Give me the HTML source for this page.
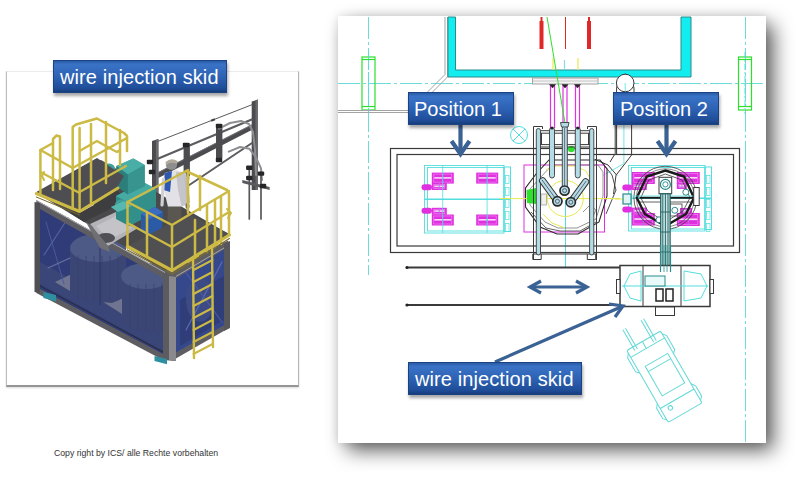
<!DOCTYPE html>
<html><head><meta charset="utf-8">
<style>
html,body{margin:0;padding:0;width:800px;height:477px;overflow:hidden;background:#fff;font-family:"Liberation Sans",sans-serif;}
.abs{position:absolute;}
#lf{left:6px;top:71px;width:291px;height:313px;border-left:1.5px solid #bcbcbc;border-right:1.5px solid #b4b4b4;border-top:1px solid #ececec;border-bottom:2px solid #959595;background:#fff;box-shadow:0 1px 2px rgba(0,0,0,0.15);}
#rf{left:338px;top:16px;width:428px;height:427px;background:#fff;box-shadow:0 0 9px rgba(0,0,0,0.10);}
#rsh{left:347px;top:25px;width:426px;height:425px;background:rgba(0,0,0,0.66);filter:blur(10px);}
#bsh{display:none;}
.lbl{position:absolute;height:32.5px;color:#fff;font-size:20px;line-height:32px;box-sizing:border-box;
background:linear-gradient(180deg,#2a5ca8 0%,#3a73c6 12%,#2d62b4 50%,#1f4d98 88%,#173d7c 100%);
border:1px solid #1b4282;box-shadow:1px 3px 3px rgba(0,0,0,0.35);white-space:nowrap;}
#copy{left:54px;top:447.5px;font-size:8.7px;color:#333;white-space:nowrap;}
svg{position:absolute;left:0;top:0;}
</style></head><body>
<div id="lf" class="abs"></div>
<div id="rsh" class="abs"></div>
<div id="bsh" class="abs"></div>
<div id="rf" class="abs"></div>

<svg id="cad" width="800" height="477" viewBox="0 0 800 477">
<line x1="368.5" y1="17" x2="368.5" y2="275" stroke="#6edcd8" stroke-width="1" stroke-dasharray="22 3 3 3"/>
<line x1="745.5" y1="17" x2="745.5" y2="443" stroke="#6edcd8" stroke-width="1" stroke-dasharray="22 3 3 3"/>
<line x1="338" y1="83.5" x2="766" y2="83.5" stroke="#6edcd8" stroke-width="1" stroke-dasharray="22 3 3 3"/>
<line x1="565.5" y1="200" x2="565.5" y2="268" stroke="#52dede" stroke-width="1" />
<rect x="362" y="57" width="13" height="53" stroke="#2ee02e" stroke-width="1.2" fill="none" />
<line x1="362" y1="59.5" x2="375" y2="59.5" stroke="#2ee02e" stroke-width="1.2" />
<line x1="362" y1="106.5" x2="375" y2="106.5" stroke="#2ee02e" stroke-width="1.2" />
<line x1="368.5" y1="52" x2="368.5" y2="114" stroke="#52dede" stroke-width="1" stroke-dasharray="6 2 2 2"/>
<rect x="738.5" y="57" width="13" height="53" stroke="#2ee02e" stroke-width="1.2" fill="none" />
<line x1="738.5" y1="59.5" x2="751.5" y2="59.5" stroke="#2ee02e" stroke-width="1.2" />
<line x1="738.5" y1="106.5" x2="751.5" y2="106.5" stroke="#2ee02e" stroke-width="1.2" />
<line x1="745.0" y1="52" x2="745.0" y2="114" stroke="#52dede" stroke-width="1" stroke-dasharray="6 2 2 2"/>
<polyline points="445,17 445,74.5 409,110.5 338,110.5" stroke="#a4a4a4" stroke-width="1" fill="none" />
<polyline points="447.5,17 447.5,77 412,112.5 338,112.5" stroke="#a4a4a4" stroke-width="1" fill="none" />
<path d="M448,17 V77 H691 V17 H681 V70 H455.5 V17 Z" fill="#12eef0" stroke="#2a8a8a" stroke-width="1"/>
<rect x="539.5" y="21" width="4" height="28" stroke="#e02828" stroke-width="0" fill="#e02828" />
<rect x="540.5" y="17" width="2" height="5" stroke="#e02828" stroke-width="0" fill="#e02828" />
<rect x="587" y="21" width="4" height="28" stroke="#e02828" stroke-width="0" fill="#e02828" />
<rect x="588" y="17" width="2" height="5" stroke="#e02828" stroke-width="0" fill="#e02828" />
<line x1="565.5" y1="17" x2="565.5" y2="49" stroke="#e02828" stroke-width="1" />
<line x1="553" y1="58" x2="553" y2="70" stroke="#e8e850" stroke-width="1.2" />
<line x1="578" y1="58" x2="578" y2="70" stroke="#e8e850" stroke-width="1.2" />
<line x1="564.5" y1="60" x2="564.5" y2="70" stroke="#8fd8e8" stroke-width="1.2" />
<rect x="532.5" y="78" width="65.5" height="6" stroke="#a4a4a4" stroke-width="1" fill="#f4f4f4" />
<line x1="533" y1="81" x2="598" y2="81" stroke="#bbbbbb" stroke-width="0.8" />
<line x1="550.5" y1="85" x2="550.5" y2="128" stroke="#e030e0" stroke-width="1.2" />
<line x1="554.5" y1="85" x2="554.5" y2="128" stroke="#e030e0" stroke-width="1.2" />
<line x1="563" y1="85" x2="563" y2="128" stroke="#e030e0" stroke-width="1.2" />
<line x1="567" y1="85" x2="567" y2="128" stroke="#e030e0" stroke-width="1.2" />
<line x1="575.5" y1="85" x2="575.5" y2="128" stroke="#e030e0" stroke-width="1.2" />
<line x1="579.5" y1="85" x2="579.5" y2="128" stroke="#e030e0" stroke-width="1.2" />
<polygon points="549.5,84.5 555.5,84.5 552.5,88" stroke="#222" stroke-width="0.5" fill="#222" />
<polygon points="562,84.5 568,84.5 565,88" stroke="#222" stroke-width="0.5" fill="#222" />
<polygon points="574.5,84.5 580.5,84.5 577.5,88" stroke="#222" stroke-width="0.5" fill="#222" />
<line x1="547" y1="17" x2="565" y2="123" stroke="#2ee02e" stroke-width="1" />
<polyline points="616.6,155 616.6,88 619,78 625.2,74 631.5,78 634,88 634,100" stroke="#3a3a3a" stroke-width="1" fill="none" />
<polyline points="631.6,92 631.6,155 616,175.3 613.5,194" stroke="#3a3a3a" stroke-width="1" fill="none" />
<polyline points="615.2,92 615.2,153.5 610,162" stroke="#3a3a3a" stroke-width="1" fill="none" />
<polyline points="595,159.4 608,165 616.8,175.3" stroke="#3a3a3a" stroke-width="1" fill="none" />
<polyline points="623.9,83 623.9,163.6 603.4,175.3" stroke="#52dede" stroke-width="0.8" fill="none" />
<circle cx="625.2" cy="83" r="8.8" stroke="#3a3a3a" stroke-width="1" fill="#fff" />
<line x1="625.2" y1="83" x2="625.2" y2="91" stroke="#52dede" stroke-width="0.8" />
<circle cx="519" cy="135" r="8.5" stroke="#52dede" stroke-width="1" fill="none" />
<line x1="513" y1="129" x2="525" y2="141" stroke="#52dede" stroke-width="1" />
<line x1="525" y1="129" x2="513" y2="141" stroke="#52dede" stroke-width="1" />
<rect x="390.5" y="148.5" width="349" height="104" stroke="#3a3a3a" stroke-width="1.2" fill="none" />
<rect x="397" y="154.5" width="336.5" height="91.5" stroke="#3a3a3a" stroke-width="1.2" fill="none" />
<line x1="406" y1="267.5" x2="620" y2="267.5" stroke="#3a3a3a" stroke-width="1.8" />
<line x1="406" y1="305" x2="620" y2="305" stroke="#3a3a3a" stroke-width="1.8" />
<circle cx="407" cy="267.5" r="1.6" stroke="#222" stroke-width="0" fill="#222" />
<circle cx="407" cy="305" r="1.6" stroke="#222" stroke-width="0" fill="#222" />
<rect x="424.5" y="165.5" width="79.5" height="67.5" stroke="#52dede" stroke-width="0.9" fill="none" />
<rect x="427.5" y="167.5" width="76.5" height="63.5" stroke="#52dede" stroke-width="0.9" fill="none" />
<rect x="504.0" y="167.0" width="6.5" height="64.5" stroke="#52dede" stroke-width="1" fill="none" />
<rect x="505.5" y="175.5" width="3.5" height="8" stroke="#52dede" stroke-width="0.7" fill="none" />
<rect x="505.5" y="187.5" width="3.5" height="8" stroke="#52dede" stroke-width="0.7" fill="none" />
<rect x="505.5" y="199.5" width="3.5" height="8" stroke="#52dede" stroke-width="0.7" fill="none" />
<rect x="505.5" y="211.5" width="3.5" height="8" stroke="#52dede" stroke-width="0.7" fill="none" />
<rect x="505.5" y="223.5" width="3.5" height="8" stroke="#52dede" stroke-width="0.7" fill="none" />
<line x1="424.5" y1="199.25" x2="511.0" y2="199.25" stroke="#52dede" stroke-width="1.3" />
<rect x="431.8" y="172.6" width="22" height="11" stroke="#e030e0" stroke-width="0" fill="#e030e0" />
<rect x="434.3" y="177.1" width="17" height="1.6" stroke="#fff" stroke-width="0" fill="#f8d8f8" />
<rect x="433.8" y="174.1" width="18" height="8" stroke="#f090f0" stroke-width="0.6" fill="none" />
<line x1="442.8" y1="172.6" x2="442.8" y2="183.6" stroke="#a080e0" stroke-width="0.8" />
<rect x="431.8" y="183" width="15" height="7" stroke="#e030e0" stroke-width="0" fill="#e030e0" />
<rect x="434.3" y="185.5" width="10" height="1.6" stroke="#fff" stroke-width="0" fill="#f8d8f8" />
<rect x="433.8" y="184.5" width="11" height="4" stroke="#f090f0" stroke-width="0.6" fill="none" />
<line x1="439.3" y1="183" x2="439.3" y2="190" stroke="#a080e0" stroke-width="0.8" />
<rect x="421.5" y="184.3" width="10.5" height="6" stroke="#e030e0" stroke-width="0" fill="#e030e0" rx="3"/>
<rect x="476.2" y="172.6" width="22" height="11" stroke="#e030e0" stroke-width="0" fill="#e030e0" />
<rect x="478.7" y="177.1" width="17" height="1.6" stroke="#fff" stroke-width="0" fill="#f8d8f8" />
<rect x="478.2" y="174.1" width="18" height="8" stroke="#f090f0" stroke-width="0.6" fill="none" />
<line x1="487.2" y1="172.6" x2="487.2" y2="183.6" stroke="#a080e0" stroke-width="0.8" />
<rect x="431.8" y="214.5" width="22" height="11" stroke="#e030e0" stroke-width="0" fill="#e030e0" />
<rect x="434.3" y="219.0" width="17" height="1.6" stroke="#fff" stroke-width="0" fill="#f8d8f8" />
<rect x="433.8" y="216.0" width="18" height="8" stroke="#f090f0" stroke-width="0.6" fill="none" />
<line x1="442.8" y1="214.5" x2="442.8" y2="225.5" stroke="#a080e0" stroke-width="0.8" />
<rect x="431.8" y="207.8" width="15" height="7" stroke="#e030e0" stroke-width="0" fill="#e030e0" />
<rect x="434.3" y="210.3" width="10" height="1.6" stroke="#fff" stroke-width="0" fill="#f8d8f8" />
<rect x="433.8" y="209.3" width="11" height="4" stroke="#f090f0" stroke-width="0.6" fill="none" />
<line x1="439.3" y1="207.8" x2="439.3" y2="214.8" stroke="#a080e0" stroke-width="0.8" />
<rect x="421.5" y="207.8" width="10.5" height="6" stroke="#e030e0" stroke-width="0" fill="#e030e0" rx="3"/>
<rect x="476.2" y="214.5" width="22" height="11" stroke="#e030e0" stroke-width="0" fill="#e030e0" />
<rect x="478.7" y="219.0" width="17" height="1.6" stroke="#fff" stroke-width="0" fill="#f8d8f8" />
<rect x="478.2" y="216.0" width="18" height="8" stroke="#f090f0" stroke-width="0.6" fill="none" />
<line x1="487.2" y1="214.5" x2="487.2" y2="225.5" stroke="#a080e0" stroke-width="0.8" />
<line x1="442.7" y1="165" x2="442.7" y2="233" stroke="#52dede" stroke-width="0.8" />
<line x1="487.1" y1="165" x2="487.1" y2="233" stroke="#52dede" stroke-width="0.8" />
<rect x="628.5" y="165.5" width="76.5" height="65.5" stroke="#52dede" stroke-width="0.9" fill="none" />
<rect x="631.5" y="167.5" width="73.5" height="61.5" stroke="#52dede" stroke-width="0.9" fill="none" />
<rect x="705.0" y="167.0" width="6.5" height="62.5" stroke="#52dede" stroke-width="1" fill="none" />
<rect x="706.5" y="175.5" width="3.5" height="8" stroke="#52dede" stroke-width="0.7" fill="none" />
<rect x="706.5" y="187.5" width="3.5" height="8" stroke="#52dede" stroke-width="0.7" fill="none" />
<rect x="706.5" y="199.5" width="3.5" height="8" stroke="#52dede" stroke-width="0.7" fill="none" />
<rect x="706.5" y="211.5" width="3.5" height="8" stroke="#52dede" stroke-width="0.7" fill="none" />
<rect x="706.5" y="223.5" width="3.5" height="8" stroke="#52dede" stroke-width="0.7" fill="none" />
<line x1="628.5" y1="198.25" x2="712.0" y2="198.25" stroke="#52dede" stroke-width="1.3" />
<rect x="631.8" y="172" width="23" height="12" stroke="#e030e0" stroke-width="0" fill="#e030e0" />
<rect x="634.3" y="177.0" width="18" height="1.6" stroke="#fff" stroke-width="0" fill="#f8d8f8" />
<rect x="633.8" y="173.5" width="19" height="9" stroke="#f090f0" stroke-width="0.6" fill="none" />
<line x1="643.3" y1="172" x2="643.3" y2="184" stroke="#a080e0" stroke-width="0.8" />
<rect x="631.8" y="183" width="15" height="7" stroke="#e030e0" stroke-width="0" fill="#e030e0" />
<rect x="634.3" y="185.5" width="10" height="1.6" stroke="#fff" stroke-width="0" fill="#f8d8f8" />
<rect x="633.8" y="184.5" width="11" height="4" stroke="#f090f0" stroke-width="0.6" fill="none" />
<line x1="639.3" y1="183" x2="639.3" y2="190" stroke="#a080e0" stroke-width="0.8" />
<rect x="622.3" y="184.6" width="10" height="6" stroke="#e030e0" stroke-width="0" fill="#e030e0" rx="3"/>
<rect x="676.8" y="172" width="23" height="12" stroke="#e030e0" stroke-width="0" fill="#e030e0" />
<rect x="679.3" y="177.0" width="18" height="1.6" stroke="#fff" stroke-width="0" fill="#f8d8f8" />
<rect x="678.8" y="173.5" width="19" height="9" stroke="#f090f0" stroke-width="0.6" fill="none" />
<line x1="688.3" y1="172" x2="688.3" y2="184" stroke="#a080e0" stroke-width="0.8" />
<rect x="676.8" y="183" width="10" height="6" stroke="#e030e0" stroke-width="0" fill="#e030e0" />
<rect x="679.3" y="185.0" width="5" height="1.6" stroke="#fff" stroke-width="0" fill="#f8d8f8" />
<rect x="678.8" y="184.5" width="6" height="3" stroke="#f090f0" stroke-width="0.6" fill="none" />
<line x1="681.8" y1="183" x2="681.8" y2="189" stroke="#a080e0" stroke-width="0.8" />
<rect x="631.8" y="213" width="23" height="12.5" stroke="#e030e0" stroke-width="0" fill="#e030e0" />
<rect x="634.3" y="218.25" width="18" height="1.6" stroke="#fff" stroke-width="0" fill="#f8d8f8" />
<rect x="633.8" y="214.5" width="19" height="9.5" stroke="#f090f0" stroke-width="0.6" fill="none" />
<line x1="643.3" y1="213" x2="643.3" y2="225.5" stroke="#a080e0" stroke-width="0.8" />
<rect x="631.8" y="207.6" width="15" height="7" stroke="#e030e0" stroke-width="0" fill="#e030e0" />
<rect x="634.3" y="210.1" width="10" height="1.6" stroke="#fff" stroke-width="0" fill="#f8d8f8" />
<rect x="633.8" y="209.1" width="11" height="4" stroke="#f090f0" stroke-width="0.6" fill="none" />
<line x1="639.3" y1="207.6" x2="639.3" y2="214.6" stroke="#a080e0" stroke-width="0.8" />
<rect x="622.3" y="206.6" width="10" height="6" stroke="#e030e0" stroke-width="0" fill="#e030e0" rx="3"/>
<rect x="676.8" y="213" width="23" height="13" stroke="#e030e0" stroke-width="0" fill="#e030e0" />
<rect x="679.3" y="218.5" width="18" height="1.6" stroke="#fff" stroke-width="0" fill="#f8d8f8" />
<rect x="678.8" y="214.5" width="19" height="10" stroke="#f090f0" stroke-width="0.6" fill="none" />
<line x1="688.3" y1="213" x2="688.3" y2="226" stroke="#a080e0" stroke-width="0.8" />
<rect x="680" y="208" width="12" height="6" stroke="#e030e0" stroke-width="0" fill="#e030e0" />
<rect x="682.5" y="210.0" width="7" height="1.6" stroke="#fff" stroke-width="0" fill="#f8d8f8" />
<rect x="682" y="209.5" width="8" height="3" stroke="#f090f0" stroke-width="0.6" fill="none" />
<line x1="686.0" y1="208" x2="686.0" y2="214" stroke="#a080e0" stroke-width="0.8" />
<circle cx="665.4" cy="197.8" r="31.5" stroke="#3a3a3a" stroke-width="0.8" fill="none" />
<circle cx="665.4" cy="197.8" r="29" stroke="#3a3a3a" stroke-width="0.6" fill="none" />
<polygon points="665.4,170.5 684,176.5 694,197.8 686,214 665.4,226 644.8,214 636.8,197.8 646.8,176.5" stroke="#1a1a1a" stroke-width="2.4" fill="none" />
<polygon points="665.4,174 682,180 690,197.8 683,211 665.4,222 647.8,211 640.8,197.8 648.8,180" stroke="#3a3a3a" stroke-width="0.8" fill="none" />
<line x1="639.4" y1="197.8" x2="693" y2="197.8" stroke="#1a1a1a" stroke-width="2" />
<line x1="640" y1="202" x2="692" y2="202" stroke="#3a3a3a" stroke-width="0.8" />
<line x1="632" y1="196" x2="700" y2="196" stroke="#52dede" stroke-width="0.8" />
<rect x="659" y="177.3" width="12.7" height="16.5" stroke="#3a3a3a" stroke-width="1" fill="#fff" />
<circle cx="665.4" cy="184.4" r="5" stroke="#2a8a8a" stroke-width="1.2" fill="#fff" />
<circle cx="665.4" cy="184.4" r="2.6" stroke="#2a8a8a" stroke-width="0.9" fill="#fff" />
<rect x="693.7" y="187.5" width="5.5" height="18" stroke="#3a3a3a" stroke-width="1" fill="#fff" />
<circle cx="685.8" cy="192.2" r="3" stroke="#2a8a8a" stroke-width="1" fill="#fff" />
<circle cx="674.8" cy="210.3" r="3" stroke="#2a8a8a" stroke-width="1" fill="#fff" />
<circle cx="659" cy="219.8" r="3" stroke="#2a8a8a" stroke-width="1" fill="#fff" />
<rect x="670" y="204" width="12" height="12" stroke="#3a3a3a" stroke-width="0.8" fill="none" />
<line x1="615" y1="199" x2="628" y2="199" stroke="#e8e850" stroke-width="1" />
<rect x="623" y="194" width="8" height="10" stroke="#2a8a8a" stroke-width="1.2" fill="#e0f4f4" />
<rect x="660.7" y="193.8" width="9.4" height="72" fill="#cfe6e6" stroke="#1f5e5e" stroke-width="1.2"/>
<line x1="662.8" y1="193.8" x2="662.8" y2="266" stroke="#2a6a6a" stroke-width="1" />
<line x1="665.4" y1="193.8" x2="665.4" y2="266" stroke="#2a6a6a" stroke-width="1" />
<line x1="668" y1="193.8" x2="668" y2="266" stroke="#2a6a6a" stroke-width="1" />
<line x1="660.7" y1="212" x2="670.1" y2="212" stroke="#2a6a6a" stroke-width="1" />
<line x1="660.7" y1="232" x2="670.1" y2="232" stroke="#2a6a6a" stroke-width="1" />
<line x1="660.7" y1="252" x2="670.1" y2="252" stroke="#2a6a6a" stroke-width="1" />
<rect x="524" y="165" width="80.5" height="67" stroke="#e030e0" stroke-width="1" fill="none" />
<polygon points="536,174 549,160 600,160 607,169 607,196 599,222 578,234 557,234 540,227 525.5,207 525.5,188" stroke="#2a2a2a" stroke-width="1.1" fill="none" />
<polygon points="540,178 552,165 598,165 603,172 603,196 596,219 577,228 558,228 545,222 530,205 530,189" stroke="#777" stroke-width="0.8" fill="none" />
<polyline points="543,214 552,223 565,228" stroke="#e8e850" stroke-width="1" fill="none" />
<polyline points="546,170 556,166 575,166 586,171 594,186" stroke="#e8e850" stroke-width="0.9" fill="none" />
<polyline points="531,212 546,228 560,231 580,231 596,222" stroke="#3a3a3a" stroke-width="0.8" fill="none" />
<polyline points="583,212 590,205 596,210 592,218" stroke="#777" stroke-width="0.8" fill="none" />
<polyline points="600,160 612,175 616,190 606,214" stroke="#3a3a3a" stroke-width="0.9" fill="none" />
<circle cx="565.3" cy="198.5" r="18" stroke="#e8e850" stroke-width="1" fill="none" />
<line x1="500" y1="198.6" x2="620" y2="198.6" stroke="#e8e850" stroke-width="1" />
<polygon points="526.5,190 536,188 536,204 527,203" stroke="#2ee02e" stroke-width="0" fill="#2ee02e" />
<rect x="541" y="194" width="5.5" height="11" stroke="#a4a4a4" stroke-width="0.8" fill="#f0f0f0" />
<circle cx="571.3" cy="149" r="3.3" stroke="#2ee02e" stroke-width="0" fill="#2ee02e" />
<polyline points="533.5,260 533.5,126.5 542.5,126.5 542.5,129" stroke="#3a3a3a" stroke-width="1" fill="none" />
<polyline points="596.5,260 596.5,126.5 587.5,126.5 587.5,129" stroke="#3a3a3a" stroke-width="1" fill="none" />
<line x1="540" y1="130.7" x2="590" y2="130.7" stroke="#3a3a3a" stroke-width="1" />
<line x1="540" y1="133.2" x2="590" y2="133.2" stroke="#3a3a3a" stroke-width="1" />
<line x1="540" y1="144.6" x2="590" y2="144.6" stroke="#3a3a3a" stroke-width="1" />
<line x1="540" y1="147" x2="590" y2="147" stroke="#3a3a3a" stroke-width="1" />
<line x1="541.5" y1="133" x2="541.5" y2="145" stroke="#3a3a3a" stroke-width="1" />
<line x1="588.5" y1="133" x2="588.5" y2="145" stroke="#3a3a3a" stroke-width="1" />
<line x1="533" y1="254" x2="597" y2="254" stroke="#3a3a3a" stroke-width="1.2" />
<polyline points="532.8,254 532.8,259.5 541.2,259.5 541.2,254" stroke="#3a3a3a" stroke-width="1" fill="none" />
<polyline points="587.3,254 587.3,259.5 595.7,259.5 595.7,254" stroke="#3a3a3a" stroke-width="1" fill="none" />
<rect x="536.3" y="128.5" width="4.2" height="126.5" rx="2.1" fill="#b4dce6" stroke="#3a3a3a" stroke-width="0.9"/>
<rect x="589.6" y="128.5" width="4.2" height="126.5" rx="2.1" fill="#b4dce6" stroke="#3a3a3a" stroke-width="0.9"/>
<rect x="549.5" y="127.5" width="5" height="50.5" rx="2.5" fill="#b4dce6" stroke="#3a3a3a" stroke-width="0.9"/>
<rect x="575.3" y="127.5" width="5" height="50.5" rx="2.5" fill="#b4dce6" stroke="#3a3a3a" stroke-width="0.9"/>
<rect x="562.3" y="126" width="5" height="66" rx="2.5" fill="#b4dce6" stroke="#3a3a3a" stroke-width="0.9"/>
<polygon points="560.5,122.5 569,122.5 568,127 561.5,127" stroke="#3a3a3a" stroke-width="0.9" fill="#b4dce6" />
<circle cx="552" cy="128" r="1.6" stroke="#222" stroke-width="0" fill="#222" />
<circle cx="577.8" cy="128" r="1.6" stroke="#222" stroke-width="0" fill="#222" />
<g transform="rotate(-36 557.4 201.3)"><rect x="554.4" y="173" width="6.2" height="29" rx="3" fill="#b4dce6" stroke="#333" stroke-width="1"/><line x1="557.5" y1="175" x2="557.5" y2="198" stroke="#556" stroke-width="0.8"/></g>
<g transform="rotate(36 570.8 202.2)"><rect x="567.7" y="174" width="6.2" height="29" rx="3" fill="#b4dce6" stroke="#333" stroke-width="1"/><line x1="570.8" y1="176" x2="570.8" y2="199" stroke="#556" stroke-width="0.8"/></g>
<line x1="564.6" y1="128" x2="564.6" y2="186" stroke="#556" stroke-width="0.8" />
<circle cx="564.6" cy="190.6" r="4.6" stroke="#2a2a2a" stroke-width="1.7" fill="#b4dce6" />
<circle cx="564.6" cy="190.6" r="2" stroke="#445" stroke-width="0.8" fill="none" />
<circle cx="557.4" cy="201.3" r="4.6" stroke="#2a2a2a" stroke-width="1.7" fill="#b4dce6" />
<circle cx="557.4" cy="201.3" r="2" stroke="#445" stroke-width="0.8" fill="none" />
<circle cx="570.8" cy="202.2" r="4.6" stroke="#2a2a2a" stroke-width="1.7" fill="#b4dce6" />
<circle cx="570.8" cy="202.2" r="2" stroke="#445" stroke-width="0.8" fill="none" />
<rect x="620" y="265.5" width="90" height="41" stroke="#3a3a3a" stroke-width="1.5" fill="#fff" />
<line x1="643" y1="266" x2="643" y2="306" stroke="#3a3a3a" stroke-width="1" />
<line x1="681" y1="266" x2="681" y2="306" stroke="#3a3a3a" stroke-width="1" />
<polygon points="624,286 630,274 641,271 641,301 630,298" stroke="#52dede" stroke-width="1" fill="none" />
<polygon points="707,286 701,274 684,271 684,301 701,298" stroke="#52dede" stroke-width="1" fill="none" />
<line x1="622" y1="286" x2="708" y2="286" stroke="#52dede" stroke-width="1" />
<rect x="616.5" y="279.5" width="3.5" height="14" stroke="#3a3a3a" stroke-width="1" fill="#fff" />
<rect x="710" y="279.5" width="3.5" height="14" stroke="#3a3a3a" stroke-width="1" fill="#fff" />
<rect x="655.5" y="307" width="19" height="8.5" stroke="#3a3a3a" stroke-width="1" fill="#fff" />
<rect x="645" y="276" width="20" height="10" stroke="#2a8a8a" stroke-width="1" fill="#e8fafa" />
<rect x="656" y="289" width="7" height="12" stroke="#222" stroke-width="1.5" fill="#fff" />
<rect x="666" y="289" width="7" height="12" stroke="#222" stroke-width="1.5" fill="#fff" />
<line x1="660.5" y1="245" x2="660.5" y2="272" stroke="#2a8a8a" stroke-width="1.2" />
<line x1="670.5" y1="245" x2="670.5" y2="272" stroke="#2a8a8a" stroke-width="1.2" />
<line x1="664" y1="245" x2="664" y2="272" stroke="#2a8a8a" stroke-width="0.8" />
<line x1="667" y1="245" x2="667" y2="272" stroke="#2a8a8a" stroke-width="0.8" />
<g transform="translate(664.6,376) rotate(-30)" stroke="#62d8d6" stroke-width="1" fill="none">
<path d="M-18,-41 H17 Q19,-41 19,-39 V40 Q19,42 17,42 H-18 Q-20,42 -20,40 V-39 Q-20,-41 -18,-41 Z"/>
<path d="M-20,-38 L-23,-34 V-18 L-20,-15"/>
<path d="M19,-38 L22,-34 V-18 L19,-15"/>
<path d="M-20,20 L-23,24 V36 L-20,39"/>
<path d="M19,20 L22,24 V36 L19,39"/>
<line x1="-20" y1="-33" x2="19" y2="-33"/>
<line x1="-13" y1="-37" x2="-13" y2="-61"/><line x1="-10" y1="-37" x2="-10" y2="-61"/>
<line x1="7.5" y1="-35" x2="7.5" y2="-60"/><line x1="10.5" y1="-35" x2="10.5" y2="-60"/>
<line x1="-2" y1="-41" x2="-2" y2="-33"/>
<rect x="-12" y="-18" width="26" height="34"/>
<line x1="-12" y1="-12" x2="14" y2="-12"/>
<circle cx="-11" cy="30.5" r="2.2"/>
<line x1="-20" y1="26" x2="19" y2="26"/>
</g>
<g stroke="#3a6294" stroke-width="4.2" fill="none" stroke-linecap="butt"><line x1="460.5" y1="124" x2="460.5" y2="154"/><polyline points="451.5,141 460.5,154 469.5,141" stroke-linejoin="miter"/></g>
<g stroke="#3a6294" stroke-width="4.2" fill="none" stroke-linecap="butt"><line x1="666.5" y1="124" x2="666.5" y2="154"/><polyline points="657.5,141 666.5,154 675.5,141" stroke-linejoin="miter"/></g>
<g stroke="#3a6294" stroke-width="3.2" fill="none"><line x1="530" y1="287" x2="586" y2="287"/><polyline points="541,281 530,287 541,293"/><polyline points="576,281 587,287 576,293"/></g>
<g stroke="#3a6294" stroke-width="3.2" fill="none"><line x1="495" y1="362" x2="622" y2="306.5"/><polyline points="609,304 623,306 615,317"/></g>
</svg>

<svg id="skid" width="800" height="477" viewBox="0 0 800 477">
<polyline points="158.4,141.2 252.8,104.4" fill="none" stroke="#5a5a5e" stroke-width="1" stroke-linejoin="round" stroke-linecap="round" />
<rect x="211" y="119" width="4" height="2" fill="#444" transform="rotate(-21 213 120)"/>
<polygon points="152,141 158.4,139 158.4,205 152,205" fill="#4c4c50" stroke="none" stroke-width="0" />
<polygon points="156,140 158.4,139 158.4,205 156,205" fill="#6a6a6e" stroke="none" stroke-width="0" />
<polygon points="251.7,101.5 258,99.5 258,190 251.7,190" fill="#4c4c50" stroke="none" stroke-width="0" />
<polygon points="255.5,100.5 258,99.5 258,190 255.5,190" fill="#6a6a6e" stroke="none" stroke-width="0" />
<polyline points="158.4,158.5 251.7,119.5" fill="none" stroke="#5c5c60" stroke-width="2.2" stroke-linejoin="round" stroke-linecap="round" />
<polygon points="158.4,172 251.7,124.5 251.7,130 158.4,178" fill="#4c4c50" stroke="none" stroke-width="0" />
<polyline points="158.4,172.5 251.7,125" fill="none" stroke="#7a7a7e" stroke-width="0.8" stroke-linejoin="round" stroke-linecap="round" />
<polyline points="187.8,186 252,143" fill="none" stroke="#5c5c60" stroke-width="2" stroke-linejoin="round" stroke-linecap="round" />
<polygon points="183.6,145 189.9,143 189.9,176 183.6,178" fill="#4c4c50" stroke="none" stroke-width="0" />
<polygon points="216,126 222.4,124 222.4,158 216,160" fill="#4c4c50" stroke="none" stroke-width="0" />
<polyline points="219,128.6 230,123 241,121 249,124 253,132 255,150 256,175" fill="none" stroke="#8e8e92" stroke-width="2" stroke-linejoin="round" stroke-linecap="round" />
<polyline points="228.8,151.6 240,147 249.3,148.7 256,157.4 261,168.4 262,180" fill="none" stroke="#8e8e92" stroke-width="2" stroke-linejoin="round" stroke-linecap="round" />
<polygon points="242.3,180 269.6,187 269.6,190 242.3,183" fill="#5a5a5e" stroke="none" stroke-width="0" />
<polyline points="249.3,170 249.3,219" fill="none" stroke="#58585c" stroke-width="1.7" stroke-linejoin="round" stroke-linecap="round" />
<polyline points="261,172 261,219" fill="none" stroke="#58585c" stroke-width="1.7" stroke-linejoin="round" stroke-linecap="round" />
<rect x="148.8" y="169.8" width="6.4" height="4.4" rx="1" fill="#262628"/>
<rect x="182.8" y="142.8" width="6.4" height="4.4" rx="1" fill="#262628"/>
<rect x="182.8" y="175.8" width="6.4" height="4.4" rx="1" fill="#262628"/>
<rect x="215.8" y="123.8" width="6.4" height="4.4" rx="1" fill="#262628"/>
<rect x="215.8" y="157.8" width="6.4" height="4.4" rx="1" fill="#262628"/>
<rect x="146.8" y="159.8" width="6.4" height="4.4" rx="1" fill="#262628"/>
<rect x="246.10000000000002" y="165.5" width="6.4" height="4.4" rx="1" fill="#262628"/>
<rect x="257.8" y="171.4" width="6.4" height="4.4" rx="1" fill="#262628"/>
<rect x="246.10000000000002" y="175.8" width="6.4" height="4.4" rx="1" fill="#262628"/>
<rect x="259.8" y="183.8" width="6.4" height="4.4" rx="1" fill="#262628"/>
<polygon points="36.3,204 165,276 165,360 36.3,292" fill="#303c78" stroke="none" stroke-width="0" />
<polygon points="175,275.5 228,244 229,327 175,357" fill="#36488c" stroke="none" stroke-width="0" />
<polygon points="40,262 165,330 165,352 40,284" fill="#3a4578" stroke="none" stroke-width="0" />
<polygon points="55,282 80,270 100,282 75,294" fill="#6f7590" stroke="none" stroke-width="0" />
<polygon points="100,300 128,288 150,300 122,314" fill="#6f7590" stroke="none" stroke-width="0" />
<polygon points="70,248 70,292 84,300 112,303 126,297 126,248" fill="#3b4674" stroke="none" stroke-width="0" />
<ellipse cx="98" cy="248" rx="28" ry="14" fill="#4e5a86"/>
<polygon points="122,276 122,322 136,330 160,333 165,328 165,276" fill="#3b4674" stroke="none" stroke-width="0" />
<ellipse cx="146" cy="276" rx="25" ry="13" fill="#4e5a86"/>
<polyline points="78,256 78,300" fill="none" stroke="#38436e" stroke-width="0.8" stroke-linejoin="round" stroke-linecap="round" />
<polyline points="86,256 86,300" fill="none" stroke="#38436e" stroke-width="0.8" stroke-linejoin="round" stroke-linecap="round" />
<polyline points="94,256 94,300" fill="none" stroke="#38436e" stroke-width="0.8" stroke-linejoin="round" stroke-linecap="round" />
<polyline points="102,256 102,300" fill="none" stroke="#38436e" stroke-width="0.8" stroke-linejoin="round" stroke-linecap="round" />
<polyline points="110,256 110,300" fill="none" stroke="#38436e" stroke-width="0.8" stroke-linejoin="round" stroke-linecap="round" />
<polyline points="118,256 118,300" fill="none" stroke="#38436e" stroke-width="0.8" stroke-linejoin="round" stroke-linecap="round" />
<polyline points="130,284 130,330" fill="none" stroke="#38436e" stroke-width="0.8" stroke-linejoin="round" stroke-linecap="round" />
<polyline points="138,284 138,330" fill="none" stroke="#38436e" stroke-width="0.8" stroke-linejoin="round" stroke-linecap="round" />
<polyline points="146,284 146,330" fill="none" stroke="#38436e" stroke-width="0.8" stroke-linejoin="round" stroke-linecap="round" />
<polyline points="154,284 154,330" fill="none" stroke="#38436e" stroke-width="0.8" stroke-linejoin="round" stroke-linecap="round" />
<polyline points="162,284 162,330" fill="none" stroke="#38436e" stroke-width="0.8" stroke-linejoin="round" stroke-linecap="round" />
<polygon points="180,300 224,276 224,320 180,346" fill="#2f3d78" stroke="none" stroke-width="0" />
<ellipse cx="200" cy="300" rx="14" ry="22" fill="#3d4b84"/>
<polyline points="44,255 68,218" fill="none" stroke="#5262a4" stroke-width="1.2" stroke-linejoin="round" stroke-linecap="round" />
<polyline points="46,222 64,284" fill="none" stroke="#4a5a9c" stroke-width="1" stroke-linejoin="round" stroke-linecap="round" />
<polyline points="186,330 222,262" fill="none" stroke="#5a6ab4" stroke-width="1.2" stroke-linejoin="round" stroke-linecap="round" />
<polyline points="184,270 222,322" fill="none" stroke="#4c5ca4" stroke-width="1.1" stroke-linejoin="round" stroke-linecap="round" />
<polyline points="100,232 100,305" fill="none" stroke="#2a3466" stroke-width="1" stroke-linejoin="round" stroke-linecap="round" />
<polyline points="48,268 70,258" fill="none" stroke="#6a70a0" stroke-width="1.2" stroke-linejoin="round" stroke-linecap="round" />
<polygon points="36.3,200 165,272 165,279 36.3,207" fill="#5e5e62" stroke="none" stroke-width="0" />
<polyline points="36.3,200.5 165,272.5" fill="none" stroke="#a8a8ac" stroke-width="1" stroke-linejoin="round" stroke-linecap="round" />
<polygon points="165,271.5 228,240.5 230,246 175,279 165,279" fill="#5e5e62" stroke="none" stroke-width="0" />
<polyline points="175,277 229,245" fill="none" stroke="#a8a8ac" stroke-width="1" stroke-linejoin="round" stroke-linecap="round" />
<polygon points="36.3,287 165,355 165,361 36.3,293" fill="#5e5e62" stroke="none" stroke-width="0" />
<polyline points="40,286 165,353" fill="none" stroke="#2a2a30" stroke-width="1" stroke-linejoin="round" stroke-linecap="round" />
<polygon points="175,353 229,322.5 229,328 175,359" fill="#5e5e62" stroke="none" stroke-width="0" />
<polygon points="34.5,202 40,203 40,293 34.5,292" fill="#505054" stroke="none" stroke-width="0" />
<polygon points="163,274 176,276 176,361 163,360" fill="#5c5c60" stroke="none" stroke-width="0" />
<polygon points="169,276 176,277 176,361 169,360" fill="#8a8a8e" stroke="none" stroke-width="0" />
<polygon points="224,244 230,241 230,328 224,331" fill="#58585c" stroke="none" stroke-width="0" />
<path d="M43.4,292 L56,295 L56,301.4 L43.4,298 Z" fill="#2e8fa0"/>
<path d="M154.5,356 L167,359 L167,364.3 L154.5,361 Z" fill="#2e8fa0"/>
<polygon points="36.3,193 101,160 229,234 165,271" fill="#4a4a4c" stroke="none" stroke-width="0" />
<polygon points="90,224 116,212 138,228 108,246" fill="#b4b4b8" stroke="none" stroke-width="0" />
<polygon points="96,226 116,216 132,228 109,240" fill="#c4c4c8" stroke="none" stroke-width="0" />
<ellipse cx="106" cy="238" rx="9" ry="5" fill="#505056"/>
<polygon points="70,213 115,189 128,200 84,222" fill="#3e3e40" stroke="none" stroke-width="0" />
<polygon points="86,222 92,226 108,246 110,252 100,248" fill="#707074" stroke="none" stroke-width="0" />
<rect x="82" y="203" width="12" height="6" fill="#e8e8ea" transform="skewY(-28) translate(0,46)"/>
<polygon points="116,196 143,182 156,189 156,212 129,226 116,219" fill="#2f8a86" stroke="none" stroke-width="0" />
<polygon points="116,196 143,182 156,189 129,203" fill="#46aaa4" stroke="none" stroke-width="0" />
<polygon points="129,203 156,189 156,212 129,226" fill="#338f8a" stroke="none" stroke-width="0" />
<polygon points="116.4,166 133.4,158.5 144.7,165 144.7,186 127.7,194.3 116.4,186" fill="#2f8a86" stroke="none" stroke-width="0" />
<polygon points="116.4,166 133.4,158.5 144.7,165 127.7,174.5" fill="#4aaea8" stroke="none" stroke-width="0" />
<polygon points="127.7,174.5 144.7,165 144.7,186 127.7,194.3" fill="#37948f" stroke="none" stroke-width="0" />
<polygon points="116.4,166 127.7,174.5 127.7,194.3 116.4,186" fill="#2b7e7a" stroke="none" stroke-width="0" />
<ellipse cx="109" cy="169" rx="6" ry="5.5" fill="#3f9e98"/>
<ellipse cx="121" cy="205" rx="6" ry="5.5" fill="#3f9e98"/>
<polygon points="99.4,179 111,174.5 118,179 106,185.8" fill="#57b8b0" stroke="none" stroke-width="0" />
<polygon points="110.8,207 124,201 131.5,206 118,212" fill="#57b8b0" stroke="none" stroke-width="0" />
<polygon points="106,186 118,180 118,183 106,189" fill="#2a7a76" stroke="none" stroke-width="0" />
<polygon points="141,214 155,207 163,212 162,229 148,236 141,231" fill="#2b5aa6" stroke="none" stroke-width="0" />
<polygon points="141,214 155,207 163,212 149,219" fill="#3a6cc0" stroke="none" stroke-width="0" />
<polygon points="36.3,192 97,158 124,176 118,186 80,210" fill="#4e4e52" stroke="none" stroke-width="0" />
<polyline points="53,190 53,139 56.5,135.5 60,136.5 60,189" fill="none" stroke="#ccba44" stroke-width="2.5" stroke-linejoin="round" stroke-linecap="round" />
<polyline points="40.4,194 40.4,150 53,143" fill="none" stroke="#ccba44" stroke-width="2.5" stroke-linejoin="round" stroke-linecap="round" />
<polyline points="40.4,150 72.7,168" fill="none" stroke="#ccba44" stroke-width="2.5" stroke-linejoin="round" stroke-linecap="round" />
<polyline points="40.4,172 79.6,193" fill="none" stroke="#ccba44" stroke-width="2.3" stroke-linejoin="round" stroke-linecap="round" />
<polyline points="44,172 42,176 44,180" fill="none" stroke="#ccba44" stroke-width="2" stroke-linejoin="round" stroke-linecap="round" />
<polyline points="72.7,207 72.7,127 76,124.5 96.9,118.5 124,133 127,136 127,151" fill="none" stroke="#ccba44" stroke-width="2.5" stroke-linejoin="round" stroke-linecap="round" />
<polyline points="79.6,210 79.6,128" fill="none" stroke="#ccba44" stroke-width="2.5" stroke-linejoin="round" stroke-linecap="round" />
<polyline points="91,203 91,124" fill="none" stroke="#ccba44" stroke-width="2.5" stroke-linejoin="round" stroke-linecap="round" />
<polyline points="106,183 106,122" fill="none" stroke="#ccba44" stroke-width="2.5" stroke-linejoin="round" stroke-linecap="round" />
<polyline points="120,165 120,130" fill="none" stroke="#ccba44" stroke-width="2.5" stroke-linejoin="round" stroke-linecap="round" />
<polyline points="72.7,168 127,138" fill="none" stroke="#ccba44" stroke-width="2.5" stroke-linejoin="round" stroke-linecap="round" />
<polyline points="79.6,151 96.9,141 113,150 117,152 120,150" fill="none" stroke="#ccba44" stroke-width="2.3" stroke-linejoin="round" stroke-linecap="round" />
<polyline points="79.6,192 126,166" fill="none" stroke="#ccba44" stroke-width="2.3" stroke-linejoin="round" stroke-linecap="round" />
<polyline points="36.3,193.5 79.6,211.5 118,188" fill="none" stroke="#ccba44" stroke-width="3" stroke-linejoin="round" stroke-linecap="round" />
<polyline points="36.3,197 79.6,215" fill="none" stroke="#7a6a2a" stroke-width="1" stroke-linejoin="round" stroke-linecap="round" />
<polygon points="167.9,204 181.5,204 181,238 175,239 174.5,222 172,238 167,237" fill="#5a5650" stroke="none" stroke-width="0" />
<polygon points="164.7,173 176,170 186,173 188,190 186.8,204.6 181.5,206.5 167.9,206.5 164,190" fill="#e2e2e6" stroke="none" stroke-width="0" />
<polygon points="176,172 186,173 188,190 186.8,204.6 181.5,206.5 178,190" fill="#c4c4ca" stroke="none" stroke-width="0" />
<polygon points="164.7,173 172,171 170,192 163.7,190" fill="#2f58b0" stroke="none" stroke-width="0" />
<polyline points="163.5,179 162,205" fill="none" stroke="#d0d0d4" stroke-width="3.2" stroke-linejoin="round" stroke-linecap="round" />
<polyline points="186,178 188.5,202" fill="none" stroke="#bcbcc2" stroke-width="3.2" stroke-linejoin="round" stroke-linecap="round" />
<ellipse cx="187.5" cy="206" rx="2" ry="3" fill="#606060"/>
<ellipse cx="171.5" cy="165" rx="5.6" ry="5" fill="#8e8e8e"/>
<path d="M165.5,162 Q171,157 177.5,161 L177,164 Q171,161 166,165 Z" fill="#b0aa9c"/>
<polygon points="127.5,246 188,214 229.4,234 172,269.5" fill="#505052" stroke="none" stroke-width="0" />
<polyline points="127.5,202 188,170" fill="none" stroke="#ccba44" stroke-width="2.4" stroke-linejoin="round" stroke-linecap="round" />
<polyline points="186,171 227,190 229,193 229,234" fill="none" stroke="#ccba44" stroke-width="2.5" stroke-linejoin="round" stroke-linecap="round" />
<polyline points="127.5,202 172,225 229,191" fill="none" stroke="#ccba44" stroke-width="2.5" stroke-linejoin="round" stroke-linecap="round" />
<polyline points="127.5,223 172,247 229,212" fill="none" stroke="#ccba44" stroke-width="2.3" stroke-linejoin="round" stroke-linecap="round" />
<polyline points="127.5,202 127.5,248" fill="none" stroke="#ccba44" stroke-width="2.5" stroke-linejoin="round" stroke-linecap="round" />
<polyline points="147,212 147,257" fill="none" stroke="#ccba44" stroke-width="2.5" stroke-linejoin="round" stroke-linecap="round" />
<polyline points="172,225 172,271" fill="none" stroke="#ccba44" stroke-width="2.5" stroke-linejoin="round" stroke-linecap="round" />
<polyline points="195,220 195,258" fill="none" stroke="#ccba44" stroke-width="2.5" stroke-linejoin="round" stroke-linecap="round" />
<polyline points="207,205 207,252" fill="none" stroke="#ccba44" stroke-width="2.5" stroke-linejoin="round" stroke-linecap="round" />
<polyline points="215,200 215,247" fill="none" stroke="#ccba44" stroke-width="2.5" stroke-linejoin="round" stroke-linecap="round" />
<polyline points="221,197 221,244" fill="none" stroke="#ccba44" stroke-width="2.5" stroke-linejoin="round" stroke-linecap="round" />
<polyline points="188,171 188,213" fill="none" stroke="#ccba44" stroke-width="2.5" stroke-linejoin="round" stroke-linecap="round" />
<polyline points="200,176 200,210" fill="none" stroke="#ccba44" stroke-width="2.5" stroke-linejoin="round" stroke-linecap="round" />
<polyline points="227,209 231,213 228,218" fill="none" stroke="#ccba44" stroke-width="2" stroke-linejoin="round" stroke-linecap="round" />
<polyline points="127.5,246.5 172,270.5 229.4,235" fill="none" stroke="#ccba44" stroke-width="3.2" stroke-linejoin="round" stroke-linecap="round" />
<polyline points="127.5,250 172,274 229.4,238.5" fill="none" stroke="#7a6a2a" stroke-width="1.2" stroke-linejoin="round" stroke-linecap="round" />
<polyline points="193,257 194,358" fill="none" stroke="#ccba44" stroke-width="2.4" stroke-linejoin="round" stroke-linecap="round" />
<polyline points="212,247 213,347" fill="none" stroke="#ccba44" stroke-width="2.4" stroke-linejoin="round" stroke-linecap="round" />
<polyline points="193.5,270 212.5,260" fill="none" stroke="#ccba44" stroke-width="2" stroke-linejoin="round" stroke-linecap="round" />
<polyline points="193.5,282 212.5,272" fill="none" stroke="#ccba44" stroke-width="2" stroke-linejoin="round" stroke-linecap="round" />
<polyline points="193.5,294 212.5,284" fill="none" stroke="#ccba44" stroke-width="2" stroke-linejoin="round" stroke-linecap="round" />
<polyline points="193.5,306 212.5,296" fill="none" stroke="#ccba44" stroke-width="2" stroke-linejoin="round" stroke-linecap="round" />
<polyline points="193.5,318 212.5,308" fill="none" stroke="#ccba44" stroke-width="2" stroke-linejoin="round" stroke-linecap="round" />
<polyline points="193.5,330 212.5,320" fill="none" stroke="#ccba44" stroke-width="2" stroke-linejoin="round" stroke-linecap="round" />
<polyline points="193.5,342 212.5,332" fill="none" stroke="#ccba44" stroke-width="2" stroke-linejoin="round" stroke-linecap="round" />
<polyline points="193.5,354 212.5,344" fill="none" stroke="#ccba44" stroke-width="2" stroke-linejoin="round" stroke-linecap="round" />
<polyline points="188,262 198,256" fill="none" stroke="#ccba44" stroke-width="2" stroke-linejoin="round" stroke-linecap="round" />
<polyline points="208,249 218,244" fill="none" stroke="#ccba44" stroke-width="2" stroke-linejoin="round" stroke-linecap="round" />
</svg>

<div class="lbl" style="left:53px;top:60px;width:174px;padding-left:6px;letter-spacing:0.1px;">wire injection skid</div>
<div class="lbl" style="left:408px;top:92px;width:106px;padding-left:5px;">Position 1</div>
<div class="lbl" style="left:613px;top:92px;width:106px;padding-left:6px;">Position 2</div>
<div class="lbl" style="left:408px;top:362px;width:174px;padding-left:6px;letter-spacing:0.1px;">wire injection skid</div>

<div id="copy" class="abs">Copy right by ICS/ alle Rechte vorbehalten</div>
</body></html>
